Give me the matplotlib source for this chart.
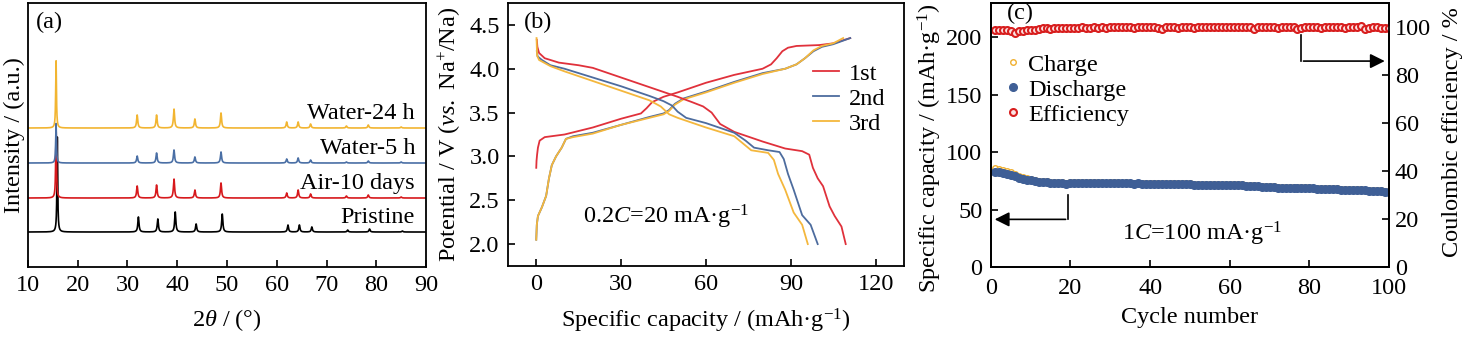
import numpy as np
import matplotlib.pyplot as plt

plt.rcParams['font.family'] = 'Liberation Serif'
plt.rcParams['mathtext.fontset'] = 'custom'
plt.rcParams['mathtext.rm'] = 'Liberation Serif'
plt.rcParams['mathtext.it'] = 'Liberation Serif:italic'
plt.rcParams['font.size'] = 17.5
plt.rcParams['axes.linewidth'] = 1.3

# ---- (a) XRD: peak positions / heights
peak_pos = [15.65, 31.95, 35.85, 39.35, 43.55, 48.8, 62.0, 64.3, 66.8, 74.0, 78.4, 85.0]
pristine_h = [95, 15, 13, 20, 8, 18, 7, 7, 5, 2, 3, 1]
air_h = [73, 12, 13, 19, 8, 15, 5, 8, 4, 2, 3, 1]
water5_h = [40, 7, 10, 13, 6, 11, 4, 5, 3, 1, 2, 1]
water24_h = [68, 13, 13, 19, 9, 15, 6, 6, 4, 2, 3, 1]
pristine_shift = 0.25
xrd_names = ['Pristine', 'Air-10 days', 'Water-5 h', 'Water-24 h']
xrd_offsets = [35, 69, 104, 139]
xrd_colors = ['black', '#d7191c', '#4a6fa5', '#f2b531']

# ---- (b) charge/discharge curves
c1_x = [0, 0.1, 0.3, 0.6, 1.2, 3, 10, 20, 30, 37, 39, 41, 45, 50, 60, 70, 80, 83, 85, 87, 89, 92, 100, 105, 111]
c1_y = [2.87, 2.95, 3.02, 3.10, 3.18, 3.22, 3.25, 3.33, 3.43, 3.49, 3.55, 3.62, 3.68, 3.73, 3.84, 3.93, 4.00, 4.05, 4.12, 4.20, 4.24, 4.26, 4.27, 4.29, 4.35]
d1_x = [0.2, 0.4, 1, 3, 8, 15, 20, 30, 40, 50, 55, 59, 62, 65, 70, 80, 88, 94, 96.5, 97.8, 99.5, 101.4, 103.7, 105.5, 107.9, 109.4]
d1_y = [4.33, 4.25, 4.18, 4.12, 4.07, 4.04, 4.01, 3.90, 3.79, 3.68, 3.62, 3.57, 3.50, 3.37, 3.28, 3.17, 3.09, 3.06, 3.02, 2.87, 2.75, 2.66, 2.43, 2.32, 2.20, 2.00]
c2_x = [0, 0.2, 0.6, 2, 3.5, 4.5, 5.5, 7, 9, 10.5, 13, 20, 30, 40, 45, 47, 49, 52, 60, 70, 80, 88, 92, 95, 98, 101, 105, 111]
c2_y = [2.05, 2.22, 2.32, 2.42, 2.55, 2.75, 2.90, 3.00, 3.10, 3.20, 3.23, 3.27, 3.36, 3.45, 3.49, 3.53, 3.60, 3.66, 3.74, 3.85, 3.95, 4.00, 4.05, 4.12, 4.20, 4.25, 4.28, 4.35]
d2_x = [0.2, 0.5, 2, 5, 10, 20, 30, 40, 45, 48, 50, 53, 60, 70, 74, 77, 82, 86, 87.5, 89, 91, 94, 97, 99.5]
d2_y = [4.20, 4.14, 4.10, 4.04, 4.00, 3.90, 3.80, 3.69, 3.63, 3.58, 3.51, 3.44, 3.38, 3.27, 3.18, 3.10, 3.07, 3.05, 2.97, 2.80, 2.62, 2.33, 2.22, 2.00]
c3_x = [0, 0.2, 0.6, 2, 3.5, 4.5, 5.5, 7, 9, 10.5, 13, 20, 30, 40, 45, 47, 49, 52, 60, 70, 80, 88, 92, 95, 98, 101, 105, 108.5]
c3_y = [2.05, 2.22, 2.32, 2.42, 2.55, 2.75, 2.90, 3.00, 3.10, 3.20, 3.22, 3.26, 3.36, 3.44, 3.48, 3.52, 3.59, 3.65, 3.73, 3.84, 3.94, 4.00, 4.05, 4.12, 4.21, 4.26, 4.29, 4.35]
d3_x = [0.1, 0.3, 1, 5, 10, 20, 30, 40, 44, 47, 50, 60, 70, 73, 76, 82, 84, 85.5, 88, 91, 94, 96]
d3_y = [4.35, 4.15, 4.10, 4.03, 3.97, 3.86, 3.75, 3.64, 3.57, 3.48, 3.44, 3.33, 3.23, 3.15, 3.07, 3.04, 2.96, 2.80, 2.62, 2.36, 2.22, 2.00]

# ---- (c) cycling
cycles = np.arange(1, 101)
discharge = [
    83.0, 82.4, 81.8, 81.0, 80.2, 79.0, 77.6, 76.8, 76.0, 75.4,
    74.8, 74.2, 73.9, 73.7, 73.5, 73.3, 73.2, 73.0, 72.6, 73.1,
    73.2, 73.1, 73.0, 73.1, 73.0, 72.9, 73.0, 72.9, 72.8, 72.9,
    73.0, 72.9, 72.8, 72.9, 72.8, 72.7, 72.8, 72.7, 72.4, 72.6,
    72.7, 72.6, 72.5, 72.6, 72.5, 72.4, 72.5, 72.4, 72.3, 72.2,
    71.8, 71.7, 71.8, 71.7, 71.6, 71.6, 71.5, 71.4, 71.4, 71.3,
    71.2, 71.2, 71.1, 71.0, 70.9, 70.6, 70.2, 70.0, 69.9, 69.8,
    69.6, 69.2, 69.1, 69.0, 69.0, 68.9, 68.8, 68.7, 68.6, 68.5,
    68.4, 68.2, 68.0, 67.9, 67.8, 67.7, 67.6, 67.4, 67.3, 67.2,
    67.1, 67.0, 66.8, 66.7, 66.6, 66.4, 66.2, 66.0, 65.7, 65.3]
charge = [
    86.0, 85.2, 84.5, 83.6, 82.6, 81.3, 79.5, 78.6, 77.5, 76.7,
    76.0, 75.2, 74.8, 74.6, 74.4, 74.2, 74.0, 73.9, 73.6, 73.9,
    74.0, 73.9, 73.8, 73.9, 73.8, 73.7, 73.8, 73.7, 73.6, 73.7,
    73.8, 73.7, 73.6, 73.7, 73.6, 73.5, 73.6, 73.5, 73.2, 73.4,
    73.5, 73.4, 73.3, 73.4, 73.3, 73.2, 73.3, 73.2, 73.1, 73.0,
    72.6, 72.5, 72.6, 72.5, 72.4, 72.4, 72.3, 72.2, 72.2, 72.1,
    72.0, 72.0, 71.9, 71.8, 71.7, 71.4, 71.0, 70.8, 70.7, 70.6,
    70.4, 70.0, 69.9, 69.8, 69.8, 69.7, 69.6, 69.5, 69.4, 69.3,
    69.2, 69.0, 68.8, 68.7, 68.6, 68.5, 68.4, 68.2, 68.1, 68.0,
    67.9, 67.8, 67.6, 67.5, 67.4, 67.2, 67.0, 66.8, 66.5, 66.1]
efficiency = [
    98.8, 98.7, 98.8, 98.6, 98.3, 97.6, 98.2, 98.5, 98.6, 98.7,
    98.9, 99.1, 99.6, 99.5, 99.3, 99.6, 99.5, 99.4, 99.6, 99.5,
    99.7, 99.6, 99.8, 99.7, 99.7, 99.8, 99.7, 99.8, 99.7, 99.8,
    99.9, 100.1, 99.8, 99.9, 99.8, 99.7, 99.9, 99.8, 100.0, 100.2,
    99.8, 99.6, 99.2, 100.1, 100.0, 99.8, 99.7, 99.9, 100.0, 99.8,
    99.6, 99.9, 100.0, 100.2, 99.9, 99.8, 99.9, 99.8, 99.9, 99.8,
    99.9, 99.8, 99.9, 100.0, 99.8, 99.2, 99.9, 100.1, 99.9, 99.8,
    99.9, 99.7, 99.9, 100.0, 100.0, 99.8, 99.2, 99.6, 100.0, 99.8,
    99.9, 99.8, 99.7, 99.9, 100.1, 100.0, 99.8, 100.0, 99.7, 99.8,
    100.1, 100.0, 100.3, 99.2, 99.5, 99.8, 99.9, 99.6, 99.7, 99.4]

fig = plt.figure(figsize=(14.63, 3.37), dpi=100)

# ===== (a)
axa = fig.add_axes([0.0191, 0.2077, 0.2721, 0.7834])
tt = np.arange(10, 90.001, 0.02)
heights = [pristine_h, air_h, water5_h, water24_h]
for i in range(4):
    shift = pristine_shift if i == 0 else 0.0
    y = np.zeros_like(tt)
    for p, h in zip(peak_pos, heights[i]):
        w = 0.09 if p < 20 else 0.14
        y = y + h / (1 + ((tt - p - shift) / w) ** 2)
    axa.plot(tt, y + xrd_offsets[i], color=xrd_colors[i], lw=1.2)
    axa.text(87.8, xrd_offsets[i] + 15, xrd_names[i], ha='right', va='center')
axa.set_xlim(10, 90)
axa.set_ylim(0, 264)
axa.set_yticks([])
axa.set_xticks(range(10, 91, 10))
axa.tick_params(axis='x', direction='in', length=5, width=1.2, pad=6)
axa.set_xlabel(r'2$\mathit{\theta}$ / (°)', labelpad=8)
axa.set_ylabel('Intensity / (a.u.)', labelpad=2)
axa.text(0.02, 0.965, '(a)', transform=axa.transAxes, va='top', ha='left')

# ===== (b)
axb = fig.add_axes([0.3472, 0.2107, 0.2707, 0.7804])
red_b, blue_b, yel_b = '#e0313b', '#4d6c9e', '#f4b73d'
axb.plot(c1_x, c1_y, color=red_b, lw=1.3, label='1st')
axb.plot(c2_x, c2_y, color=blue_b, lw=1.3, label='2nd')
axb.plot(c3_x, c3_y, color=yel_b, lw=1.3, label='3rd')
axb.plot(d1_x, d1_y, color=red_b, lw=1.3)
axb.plot(d2_x, d2_y, color=blue_b, lw=1.3)
axb.plot(d3_x, d3_y, color=yel_b, lw=1.3)
axb.set_xlim(-10, 130)
axb.set_ylim(1.75, 4.75)
axb.set_xticks(range(0, 121, 30))
axb.set_yticks([2.0, 2.5, 3.0, 3.5, 4.0, 4.5])
axb.set_yticklabels(['2.0', '2.5', '3.0', '3.5', '4.0', '4.5'])
axb.tick_params(direction='in', length=5, width=1.2, pad=6)
axb.set_xlabel(r'Specific capacity / (mAh·g$^{-1}$)', labelpad=8)
axb.set_ylabel(r'Potential / V ($\mathit{vs.}$ Na$^{+}$/Na)', labelpad=4)
axb.text(0.04, 0.965, '(b)', transform=axb.transAxes, va='top', ha='left')
axb.text(16.5, 2.31, r'0.2$\mathit{C}$=20 mA·g$^{-1}$', va='center', ha='left')
axb.legend(loc='upper left', bbox_to_anchor=(0.745, 0.81), frameon=False,
           handlelength=1.1, handletextpad=0.4, labelspacing=0.12, borderaxespad=0)

# ===== (c)
axc = fig.add_axes([0.6772, 0.2077, 0.2723, 0.7834])
axc2 = axc.twinx()
h1, = axc.plot(cycles, charge, 'o', ms=4, mfc='white', mec='#f0b030', mew=1.0, label='Charge')
h2, = axc.plot(cycles, discharge, 'o', ms=5.5, color='#3f5f96', mec='#3f5f96', label='Discharge')
h3, = axc2.plot(cycles, efficiency, 'o', ms=5, mfc='#fbe3e3', mec='#d81e1e', mew=1.5, label='Efficiency')
axc.set_xlim(0, 100)
axc.set_ylim(0, 230)
axc2.set_ylim(0, 110)
axc.set_xticks(range(0, 101, 20))
axc.set_yticks(range(0, 201, 50))
axc2.set_yticks(range(0, 101, 20))
axc.tick_params(direction='in', length=5, width=1.2, pad=6)
axc.tick_params(axis='x', pad=8)
axc2.tick_params(direction='in', length=5, width=1.2, pad=4)
axc.set_xlabel('Cycle number', labelpad=6)
axc.set_ylabel(r'Specific capacity / (mAh·g$^{-1}$)')
axc.yaxis.set_label_coords(-0.118, 0.45)
axc2.set_ylabel('Coulombic efficiency / %')
axc2.yaxis.set_label_coords(1.132, 0.51)
axc.text(0.04, 1.0, '(c)', transform=axc.transAxes, va='top', ha='left')
axc.text(53, 29, r'1$\mathit{C}$=100 mA·g$^{-1}$', va='center', ha='center')
axc.legend(handles=[h1, h2, h3], loc='upper left', bbox_to_anchor=(0.012, 0.845), frameon=False,
           handlelength=0.6, handletextpad=0.35, labelspacing=0.13, borderaxespad=0)
# arrows
axc.plot([19.5, 19.5], [63, 41.5], color='k', lw=1.2)
axc.annotate('', xy=(0.3, 41.5), xytext=(19.5, 41.5),
             arrowprops=dict(arrowstyle='-|>', color='k', lw=1.2, mutation_scale=22))
axc2.plot([77.8, 77.8], [96.5, 85.8], color='k', lw=1.2)
axc2.annotate('', xy=(99.6, 85.8), xytext=(77.8, 85.8),
              arrowprops=dict(arrowstyle='-|>', color='k', lw=1.2, mutation_scale=22))

fig.savefig('out.png', dpi=100)
